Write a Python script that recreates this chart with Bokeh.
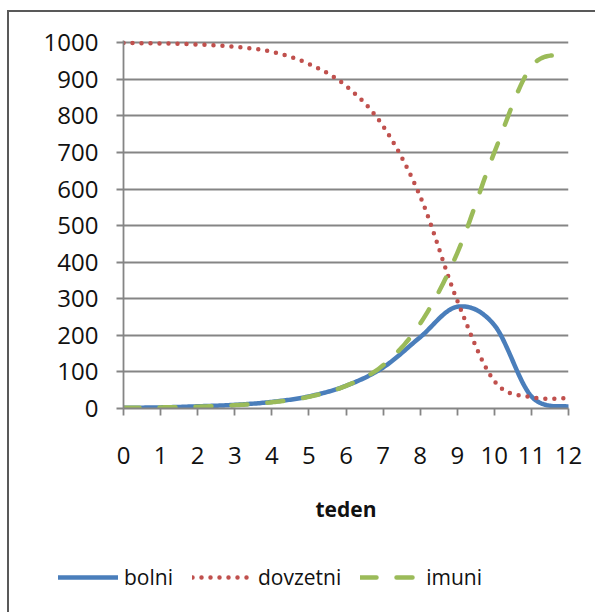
import numpy as np
from bokeh.plotting import figure
from bokeh.layouts import column, row
from bokeh.models import Range1d, FixedTicker, Legend, LegendItem
from bokeh.embed import file_html
from bokeh.resources import INLINE

# ---- data ----
weeks = [0, 1, 2, 3, 4, 5, 6, 7, 8, 9, 10, 11, 12]
bolni = [2, 3, 6, 10, 18, 33, 62, 112, 195, 278, 228, 33, 5]
dovzetni = [999, 998, 995, 989, 975, 942, 882, 772, 580, 295, 75, 31, 28]
imuni = [2, 3, 5, 9, 17, 32, 62, 118, 232, 425, 700, 935, 966]
series_names = ["bolni", "dovzetni", "imuni"]
x_ticks = list(range(0, 13))
y_ticks = list(range(0, 1001, 100))
x_title = "teden"

FONT = "Open Sans"
COLORS = ["#4A7EBB", "#C0504D", "#9BBB59"]
DASHES = ["solid", "0 9", "16 20"]


def smooth(xs, ys, n=24):
    """Excel-like smoothed line (Catmull-Rom) through the given points."""
    xs = np.asarray(xs, float)
    ys = np.asarray(ys, float)
    px = np.concatenate([[xs[0]], xs, [xs[-1]]])
    py = np.concatenate([[ys[0]], ys, [ys[-1]]])
    out_x, out_y = [], []
    t = np.linspace(0, 1, n, endpoint=False)
    h00 = 2 * t**3 - 3 * t**2 + 1
    h10 = t**3 - 2 * t**2 + t
    h01 = -2 * t**3 + 3 * t**2
    h11 = t**3 - t**2
    for i in range(1, len(px) - 2):
        for p_, o in ((px, out_x), (py, out_y)):
            m0 = (p_[i + 1] - p_[i - 1]) / 2
            m1 = (p_[i + 2] - p_[i]) / 2
            o.extend(h00 * p_[i] + h10 * m0 + h01 * p_[i + 1] + h11 * m1)
    out_x.append(xs[-1])
    out_y.append(ys[-1])
    return out_x, out_y


p = figure(
    width=586, height=536,
    x_range=Range1d(0, 12), y_range=Range1d(0, 1006),
    output_backend="svg", toolbar_location=None,
    min_border_left=114, min_border_right=27,
    min_border_top=28, min_border_bottom=140,
)
p.outline_line_color = None
p.background_fill_color = "white"
p.border_fill_color = "white"

# grid
p.xgrid.visible = False
p.ygrid.ticker = FixedTicker(ticks=y_ticks)
p.ygrid.grid_line_color = "#858585"
p.ygrid.grid_line_width = 1.8

# axes
for ax in (p.xaxis[0], p.yaxis[0]):
    ax.axis_line_color = "#858585"
    ax.axis_line_width = 1.8
    ax.major_tick_line_color = "#858585"
    ax.major_tick_line_width = 1.8
    ax.major_tick_in = 0
    ax.major_tick_out = 7
    ax.minor_tick_line_color = None
    ax.major_label_text_font = FONT
    ax.major_label_text_font_size = "24px"
    ax.major_label_text_color = "#111111"

p.xaxis[0].ticker = FixedTicker(ticks=x_ticks)
p.yaxis[0].ticker = FixedTicker(ticks=y_ticks)
p.xaxis[0].major_label_standoff = 31
p.yaxis[0].major_label_standoff = 18
p.xaxis[0].axis_label = x_title
p.xaxis[0].axis_label_text_font = FONT
p.xaxis[0].axis_label_text_font_style = "bold"
p.xaxis[0].axis_label_text_font_size = "21px"
p.xaxis[0].axis_label_text_color = "#111111"
p.xaxis[0].axis_label_standoff = 28

# lines (drawn in series order: bolni, dovzetni, imuni)
for ys, c, d in zip([bolni, dovzetni, imuni], COLORS, DASHES):
    sx, sy = smooth(weeks, ys)
    p.line(sx, sy, line_color=c, line_width=4.5, line_cap="round",
           line_join="round", line_dash=d)

# legend strip below the chart
lg = figure(
    width=586, height=64, x_range=Range1d(0, 1), y_range=Range1d(0, 1),
    x_axis_type=None, y_axis_type=None,
    output_backend="svg", toolbar_location=None,
    min_border=0,
)
lg.outline_line_color = None
lg.xgrid.visible = False
lg.ygrid.visible = False
items = []
for name, c, d in zip(series_names, COLORS, DASHES):
    # off-range stand-in renderer, only used for the legend glyph style
    r = lg.line([-5, -4], [-5, -5], line_color=c, line_width=4.5,
                line_cap="round", line_dash=d)
    items.append(LegendItem(label=name, renderers=[r]))

legend = Legend(
    items=items, orientation="horizontal", location=(49, 21),
    glyph_width=60, glyph_height=24, label_standoff=6, spacing=19,
    padding=0, margin=0,
    label_text_font=FONT, label_text_font_size="21px", label_text_color="#111111",
    border_line_alpha=0, background_fill_alpha=0,
)
lg.add_layout(legend, "center")

layout = column(p, row(lg), spacing=0,
                styles={"border-top": "2px solid #595959",
                        "border-left": "2px solid #595959",
                        "margin-top": "10px", "margin-left": "7px"})

open("out.html", "w").write(file_html(layout, INLINE))
